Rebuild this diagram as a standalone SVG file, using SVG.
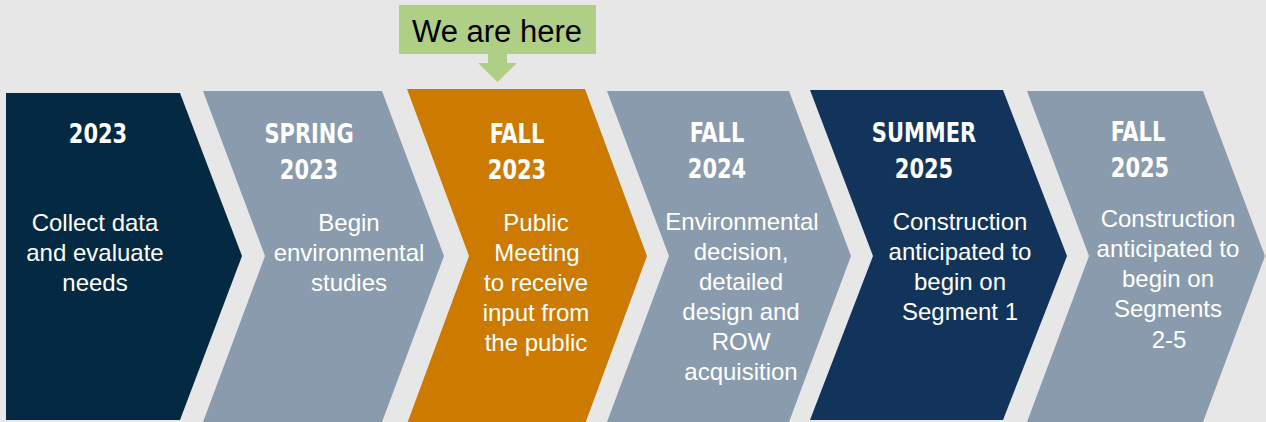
<svg xmlns="http://www.w3.org/2000/svg" width="1266" height="422" viewBox="0 0 1266 422">
  <style>
    .hd { font-family: "DejaVu Sans Condensed", "DejaVu Sans", "Liberation Sans", sans-serif; font-stretch: condensed; font-weight: bold; font-size: 26.5px; fill: #ffffff; text-anchor: middle; }
    .bd { font-family: "Liberation Sans", Arial, sans-serif; font-size: 24px; fill: #ffffff; text-anchor: middle; }
    .navy1 { fill: #042942; }
    .navy2 { fill: #13345A; }
    .gray { fill: #8A9BAE; }
    .orange { fill: #CC7A00; }
    .callout { fill: #AFCE86; }
    .callout-text { font-family: "Liberation Sans", Arial, sans-serif; font-size: 31px; fill: #000000; text-anchor: middle; }
  </style>
  <rect x="0" y="0" width="1266" height="422" fill="#E7E7E7"/>

  <g id="step1">
    <polygon class="navy1" points="6,93 180,93 242,256 180,420 6,420"/>
    <text class="hd" transform="translate(98,143) scale(0.88,1)">2023</text>
    <text class="bd" x="95" y="231">Collect data</text>
    <text class="bd" x="95" y="261">and evaluate</text>
    <text class="bd" x="95" y="291">needs</text>
  </g>

  <g id="step2">
    <polygon class="gray" points="203,91 382,91 444,256 382,422 203,422 265,256"/>
    <text class="hd" transform="translate(309,143) scale(0.88,1)">SPRING</text>
    <text class="hd" transform="translate(309,179) scale(0.88,1)">2023</text>
    <text class="bd" x="349" y="231">Begin</text>
    <text class="bd" x="349" y="261">environmental</text>
    <text class="bd" x="349" y="291">studies</text>
  </g>

  <g id="step3">
    <polygon class="orange" points="407,89 585,89 647,256 585,424 407,424 469,256"/>
    <text class="hd" transform="translate(517,143) scale(0.88,1)">FALL</text>
    <text class="hd" transform="translate(517,179) scale(0.88,1)">2023</text>
    <text class="bd" x="536" y="231">Public</text>
    <text class="bd" x="537" y="261">Meeting</text>
    <text class="bd" x="536" y="291">to receive</text>
    <text class="bd" x="536" y="321">input from</text>
    <text class="bd" x="536" y="351">the public</text>
  </g>

  <g id="step4">
    <polygon class="gray" points="607,91 789,91 851,256 789,422 607,422 669,256"/>
    <text class="hd" transform="translate(717,142) scale(0.88,1)">FALL</text>
    <text class="hd" transform="translate(717,178) scale(0.88,1)">2024</text>
    <text class="bd" x="742" y="230">Environmental</text>
    <text class="bd" x="741" y="260">decision,</text>
    <text class="bd" x="741" y="290">detailed</text>
    <text class="bd" x="741" y="320">design and</text>
    <text class="bd" x="741" y="350">ROW</text>
    <text class="bd" x="741" y="380">acquisition</text>
  </g>

  <g id="step5">
    <polygon class="navy2" points="810,90 1003,90 1067,256 1003,420 810,420 873,256"/>
    <text class="hd" transform="translate(924,142) scale(0.88,1)">SUMMER</text>
    <text class="hd" transform="translate(924,178) scale(0.88,1)">2025</text>
    <text class="bd" x="960" y="230">Construction</text>
    <text class="bd" x="960" y="260">anticipated to</text>
    <text class="bd" x="960" y="290">begin on</text>
    <text class="bd" x="960" y="320">Segment 1</text>
  </g>

  <g id="step6">
    <polygon class="gray" points="1027,91 1203,91 1265,256 1203,422 1027,422 1089,256"/>
    <text class="hd" transform="translate(1138,141) scale(0.88,1)">FALL</text>
    <text class="hd" transform="translate(1140,177) scale(0.88,1)">2025</text>
    <text class="bd" x="1168" y="227">Construction</text>
    <text class="bd" x="1168" y="257">anticipated to</text>
    <text class="bd" x="1168" y="287">begin on</text>
    <text class="bd" x="1168" y="317">Segments</text>
    <text class="bd" x="1169" y="348">2-5</text>
  </g>

  <g id="we-are-here">
    <rect class="callout" x="399" y="5" width="197" height="49"/>
    <polygon class="callout" points="488,54 507,54 507,63 517,63 497.5,82 478,63 488,63"/>
    <text class="callout-text" x="497" y="42">We are here</text>
  </g>

  <g id="connectors"/>
</svg>
